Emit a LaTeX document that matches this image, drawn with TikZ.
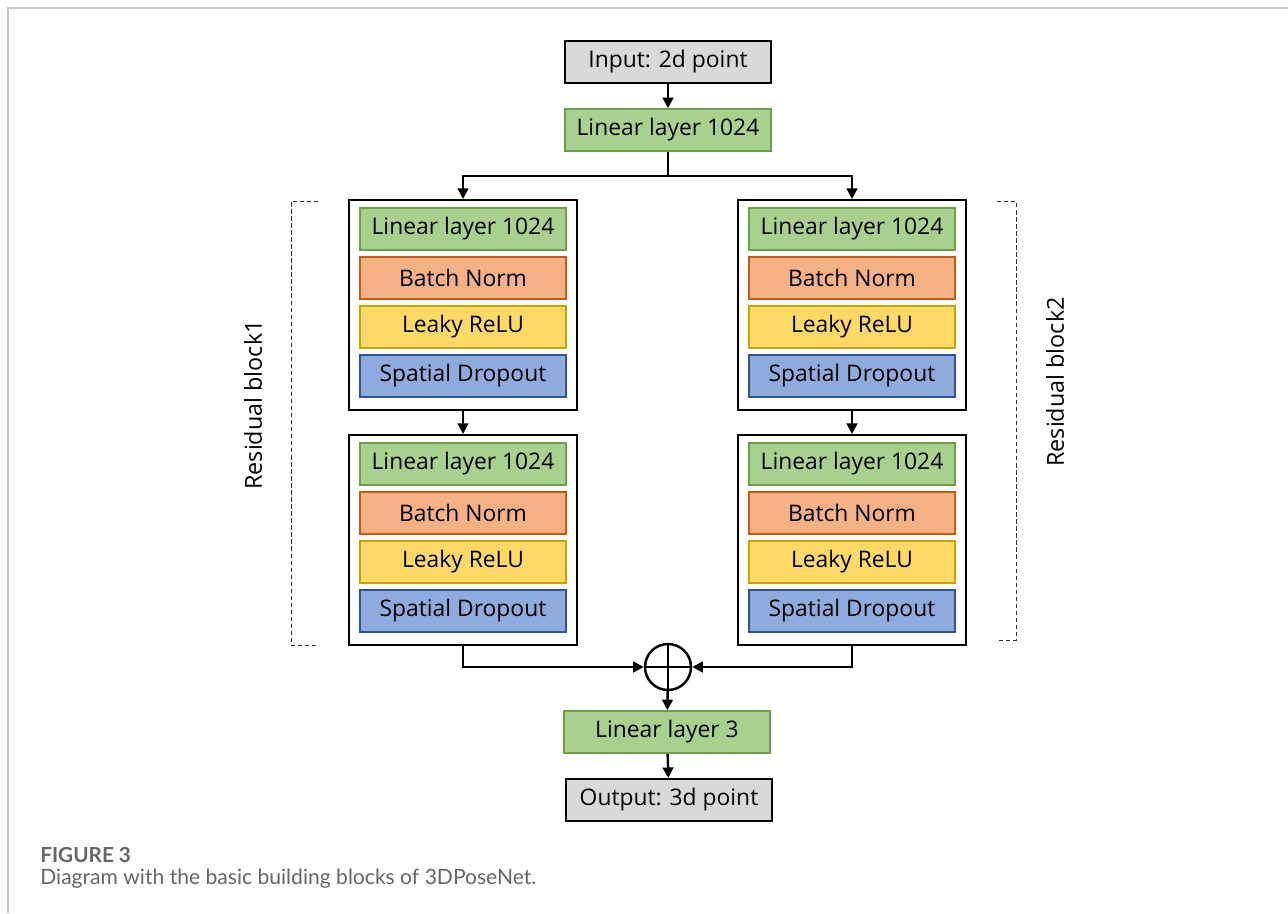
\documentclass[tikz,border=0pt]{standalone}
\usepackage{fontspec}
\setmainfont{Open Sans}
\newfontfamily\capfont{Lato}
\usetikzlibrary{arrows.meta,positioning,calc}

\definecolor{lingreen}{HTML}{A9D18E}
\definecolor{lingreenb}{HTML}{6E9E4A}
\definecolor{normorange}{HTML}{F4B183}
\definecolor{normorangeb}{HTML}{C55A11}
\definecolor{reluyellow}{HTML}{FFD966}
\definecolor{reluyellowb}{HTML}{C9A300}
\definecolor{dropblue}{HTML}{8FAADC}
\definecolor{dropblueb}{HTML}{2F5597}
\definecolor{iogray}{HTML}{D9D9D9}
\definecolor{framegray}{HTML}{C8C8C8}
\definecolor{captext}{HTML}{666666}

\tikzset{
    layer/.style={draw, line width=0.9pt, minimum width=4.12cm, minimum height=0.84cm,
                  inner sep=0pt, font=\fontsize{13}{15}\selectfont},
    linbox/.style={layer, fill=lingreen, draw=lingreenb},
    normbox/.style={layer, fill=normorange, draw=normorangeb},
    relubox/.style={layer, fill=reluyellow, draw=reluyellowb},
    dropbox/.style={layer, fill=dropblue, draw=dropblueb},
    iobox/.style={layer, fill=iogray, draw=black, line width=1.1pt},
    blockframe/.style={draw, fill=white, line width=1.2pt, minimum width=4.56cm,
                       minimum height=4.2cm, inner sep=0pt},
    conn/.style={line width=1.4pt},
    arr/.style={conn, -{Triangle[length=6pt,width=6pt]}},
    bracket/.style={line width=0.5pt, black!80, dash pattern=on 2.5pt off 1.5pt},
    sidelabel/.style={rotate=90, font=\fontsize{13.3}{15}\selectfont},
}

\begin{document}
\begin{tikzpicture}[x=0.02cm, y=-0.02cm]
    \useasboundingbox (0,0) rectangle (1288,913);

    % Page frame
    \draw[framegray, line width=1.2pt] (8,913) -- (8,8) -- (1288,8);

    % Input and first linear layer
    \node[iobox] (inp) at (668,62) {Input: 2d point};
    \node[linbox] (lin0) at (668,130) {Linear layer 1024};

    % Two columns of two residual blocks each
    \foreach \col/\cx in {a/463,b/852} {
        \foreach \row/\top in {1/200,2/435} {
            \node[blockframe] (blk\col\row) at (\cx,\top+105) {};
            \foreach \j/\lname/\sty in {0/Linear layer 1024/linbox,1/Batch Norm/normbox,
                                        2/Leaky ReLU/relubox,3/Spatial Dropout/dropbox} {
                \node[\sty] (\col\row\j) at (\cx,\top+29+49*\j) {\lname};
            }
        }
    }

    % Summation node
    \node[draw, circle, line width=1.4pt, minimum size=0.92cm, inner sep=0pt] (sum) at (668,667) {};
    \draw[conn] (sum.north) -- (sum.south);
    \draw[conn] (sum.west) -- (sum.east);

    % Output side
    \node[linbox] (lin3) at (667,732) {Linear layer 3};
    \node[iobox] (out) at (669,800) {Output: 3d point};

    % Connectors
    \coordinate (split) at (668,176);
    \draw[arr] (inp) -- (lin0);
    \draw[conn] (lin0) -- (split);
    \draw[arr] (split) -| (blka1.north);
    \draw[arr] (split) -| (blkb1.north);
    \draw[arr] (blka1) -- (blka2);
    \draw[arr] (blkb1) -- (blkb2);
    \draw[arr] (blka2.south) |- (sum.west);
    \draw[arr] (blkb2.south) |- (sum.east);
    \draw[arr] (sum) -- (lin3);
    \draw[arr] (lin3) -- (out);

    % Dashed brackets with labels
    \draw[bracket] (318,201) -- (291,201) -- (291,645) -- (318,645);
    \draw[bracket] (997,201) -- (1016,201) -- (1016,640) -- (997,640);
    \node[sidelabel] (res1) at (253,405) {Residual block1};
    \node[sidelabel] (res2) at (1055,382) {Residual block2};

    % Caption
    \node[anchor=west, inner sep=0pt, text=captext, font=\capfont\bfseries\fontsize{11.8}{13}\selectfont] (fig) at (40,855) {FIGURE 3};
    \node[anchor=west, inner sep=0pt, text=captext, font=\capfont\fontsize{12}{14}\selectfont] (cap) at (40,879) {Diagram with the basic building blocks of 3DPoseNet.};
\end{tikzpicture}
\end{document}
